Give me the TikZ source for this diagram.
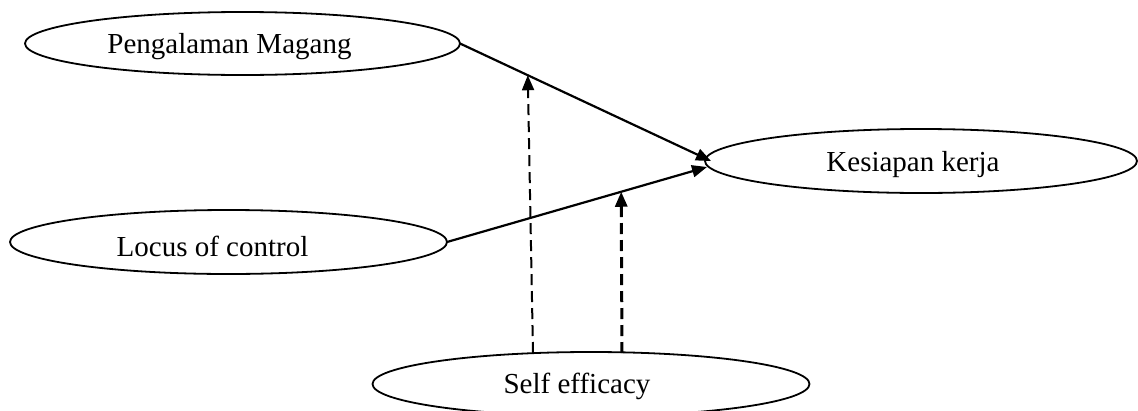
\documentclass[tikz,border=0pt]{standalone}
\usepackage{fontspec}
\setmainfont{Liberation Serif}
\usetikzlibrary{shapes.geometric,arrows.meta}
\begin{document}
\begin{tikzpicture}[x=1pt,y=-1pt,
  var/.style={draw,ellipse,line width=1.8pt,outer sep=0pt,inner sep=0pt},
  lbl/.style={font=\fontsize{29}{32}\selectfont},
  path/.style={line width=2.2pt,-{Triangle[length=15pt,width=12pt]}},
  modA/.style={line width=2pt,dash pattern=on 11pt off 6pt,-{Triangle[length=15pt,width=12pt]}},
  modB/.style={line width=3pt,dash pattern=on 11pt off 6pt,-{Triangle[length=15pt,width=12pt]}}]
\useasboundingbox (0,0) rectangle (1138,410);
\clip (0,0) rectangle (1138,410);
\node[var,minimum width=435pt,minimum height=63pt,
  label={[lbl,xshift=-13pt,yshift=-3pt]center:Pengalaman Magang}] (pm) at (242.5,43.5) {};
\node[var,minimum width=432pt,minimum height=64pt,
  label={[lbl,xshift=-8pt,yshift=-4pt]center:Kesiapan kerja}] (ks) at (921,161) {};
\node[var,minimum width=437pt,minimum height=64pt,
  label={[lbl,xshift=-16pt,yshift=-4pt]center:Locus of control}] (lc) at (228.5,242) {};
\node[var,minimum width=437pt,minimum height=64pt,
  label={[lbl,xshift=-14pt,yshift=-2pt]center:Self efficacy}] (se) at (591,384) {};
\coordinate (s1) at (533,353);
\coordinate (s2) at (622,353);
\draw[path] (pm.east) -- ([xshift=6pt]ks.west) coordinate[pos=0.27] (m1);
\draw[path] (lc.east) -- ([xshift=2pt,yshift=-6pt]ks.west) coordinate[pos=0.67] (m2);
\draw[modA] (s1) -- (m1);
\draw[modB] (s2) -- (m2);
\end{tikzpicture}
\end{document}
